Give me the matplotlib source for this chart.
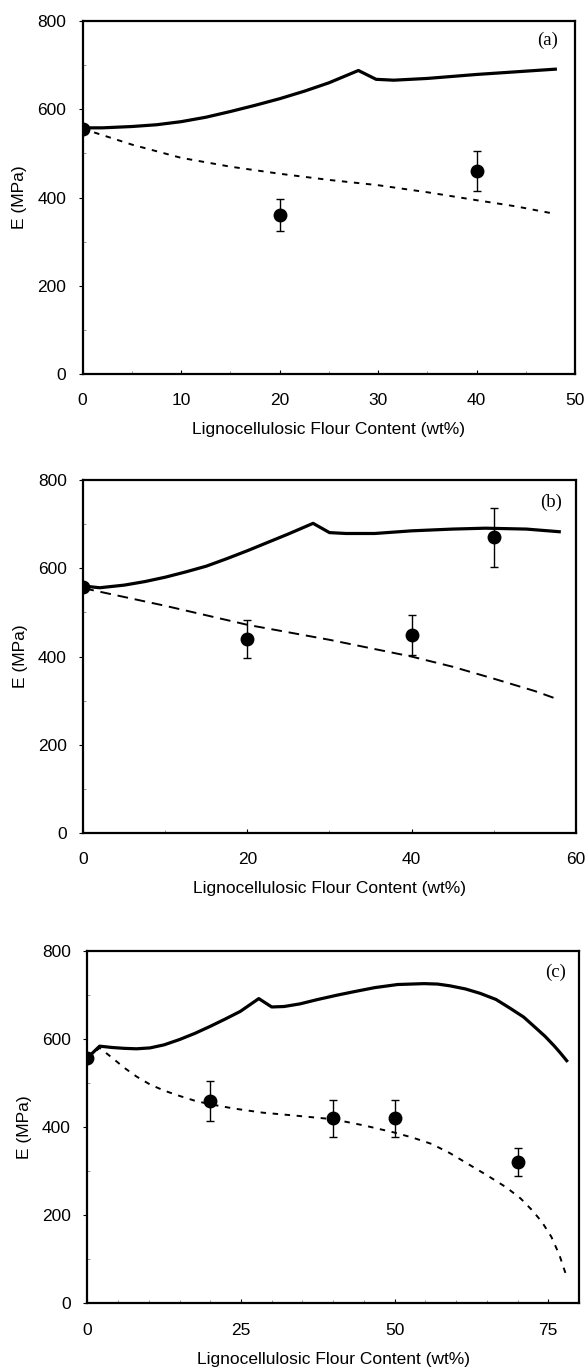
import matplotlib
matplotlib.use("Agg")
import matplotlib.pyplot as plt
from matplotlib.ticker import MultipleLocator

plt.rcParams['font.family'] = ['Liberation Sans', 'DejaVu Sans']

# ---------- Panel (a) ----------
a_solid_x = [0, 2, 5, 7.5, 10, 12.5, 15, 17.5, 20, 22.5, 25, 28, 29.8, 31.6, 35, 40, 44, 48]
a_solid_y = [558, 558, 561, 565, 572, 582, 595, 609, 624, 641, 660, 688, 668, 666, 670, 679, 685, 691]
a_dash_x = [0, 5, 10, 15, 20, 25, 30, 35, 40, 44, 47.5]
a_dash_y = [556, 520, 490, 470, 454, 440, 428, 412, 394, 380, 365]
a_pts_x = [0, 20, 40]
a_pts_y = [556, 360, 460]
a_pts_err = [0, 36, 46]

# ---------- Panel (b) ----------
b_solid_x = [0, 2, 5, 7.5, 10, 12.5, 15, 17.5, 20, 22.5, 25, 28, 30, 32, 35.5, 40, 45, 49, 54, 58]
b_solid_y = [560, 556, 562, 570, 580, 592, 605, 622, 640, 659, 678, 702, 681, 679, 679, 685, 689, 691, 689, 683]
b_dash_x = [0, 10, 20, 30, 40, 45, 50, 55, 58]
b_dash_y = [555, 515, 472, 438, 400, 377, 350, 322, 302]
b_pts_x = [0, 20, 40, 50]
b_pts_y = [558, 440, 449, 670]
b_pts_err = [0, 43, 45, 67]

# ---------- Panel (c) ----------
c_solid_x = [0, 2, 4, 6, 8, 10.2, 12.5, 15, 17.5, 20, 22.5, 24.9, 27.9, 30, 32, 34.6,
             37.5, 40.7, 43.5, 46.8, 50.5, 54.8, 57, 59, 61.5, 63.9, 66.5, 68.8, 71,
             73, 74.5, 76, 77, 78]
c_solid_y = [557, 584, 581, 579, 578, 580, 587, 599, 613, 629, 646, 663, 692, 673, 674, 680,
             690, 700, 708, 717, 724, 726, 725, 721, 714, 704, 690, 670, 650,
             625, 606, 584, 568, 551]
c_dash_x = [0, 2, 4, 6, 8, 10.2, 12.5, 15, 17.5, 20, 24, 28.5, 34, 40, 45, 49.9, 53,
            56, 59, 62, 65, 68.2, 70.5, 72.4, 74, 75.5, 76.8, 78]
c_dash_y = [557, 580, 558, 535, 515, 497, 483, 471, 460, 452, 442, 433, 426, 418, 404, 388, 376,
            362, 341, 316, 291, 263, 238, 211, 184, 151, 110, 60]
c_pts_x = [0, 20, 40, 50, 70]
c_pts_y = [557, 460, 420, 420, 320]
c_pts_err = [0, 45, 42, 42, 32]

xlabel = "Lignocellulosic Flour Content (wt%)"
ylabel = "E (MPa)"

fig = plt.figure(figsize=(5.88, 13.69), dpi=100)

panels = [
    dict(rect=[0.1406, 0.7268, 0.8373, 0.2578], xmax=50, xmaj=10, xmin=5,
         sx=a_solid_x, sy=a_solid_y, dx=a_dash_x, dy=a_dash_y,
         px=a_pts_x, py=a_pts_y, pe=a_pts_err, dashes=(2.8, 3.4), tag="(a)",
         tagpos=(0.945, 0.945)),
    dict(rect=[0.1417, 0.3915, 0.8373, 0.2578], xmax=60, xmaj=20, xmin=10,
         sx=b_solid_x, sy=b_solid_y, dx=b_dash_x, dy=b_dash_y,
         px=b_pts_x, py=b_pts_y, pe=b_pts_err, dashes=(5.5, 3.5), tag="(b)",
         tagpos=(0.951, 0.937)),
    dict(rect=[0.1485, 0.0480, 0.8362, 0.2573], xmax=80, xmaj=25, xmin=5,
         sx=c_solid_x, sy=c_solid_y, dx=c_dash_x, dy=c_dash_y,
         px=c_pts_x, py=c_pts_y, pe=c_pts_err, dashes=(2.8, 3.4), tag="(c)",
         tagpos=(0.953, 0.94)),
]

for p in panels:
    ax = fig.add_axes(p['rect'])
    ax.plot(p['sx'], p['sy'], color='black', lw=2.3, solid_joinstyle='round')
    ax.plot(p['dx'], p['dy'], color='black', lw=1.4, dashes=p['dashes'])
    ax.errorbar(p['px'], p['py'], yerr=p['pe'], fmt='o', color='black',
                markersize=9, elinewidth=1.0, capsize=3, capthick=1.0, zorder=5)
    ax.set_xlim(0, p['xmax'])
    ax.set_ylim(0, 800)
    ax.xaxis.set_major_locator(MultipleLocator(p['xmaj']))
    ax.xaxis.set_minor_locator(MultipleLocator(p['xmin']))
    ax.yaxis.set_major_locator(MultipleLocator(200))
    ax.yaxis.set_minor_locator(MultipleLocator(100))
    for s in ax.spines.values():
        s.set_linewidth(1.6)
    ax.tick_params(axis='x', which='major', direction='in', length=3, width=0.8,
                   pad=14, labelsize=12.5)
    ax.tick_params(axis='y', which='major', direction='out', length=3, width=0.8,
                   pad=9, labelsize=12.5)
    ax.tick_params(which='minor', direction='in', length=2, width=0.6, color='0.5')
    ax.set_xlabel(xlabel, fontsize=12.5, labelpad=10)
    ax.set_ylabel(ylabel, fontsize=12.5, labelpad=7)
    ax.text(p['tagpos'][0], p['tagpos'][1], p['tag'], transform=ax.transAxes,
            ha='center', va='center', fontsize=13.5, family='Liberation Serif')

fig.savefig("out.png", dpi=100)
